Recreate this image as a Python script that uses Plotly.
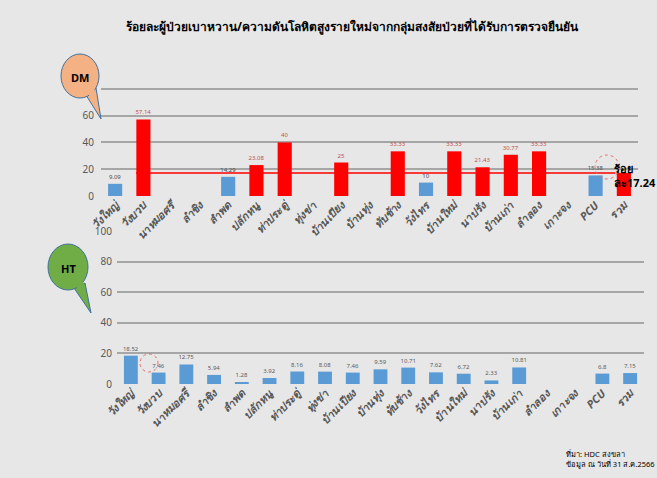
import plotly.graph_objects as go

# Units (sub-district health centres)
categories = ["วังใหญ่", "วังบวบ", "นาหมอศรี", "ลำชิง", "ลำพด", "ปลักหนู", "ท่าประดู่",
              "ทุ่งข่า", "บ้านเปียง", "บ้านทุ่ง", "ทับช้าง", "วังไทร", "บ้านใหม่", "นาปรัง",
              "บ้านเก่า", "ลำลอง", "เกาะจง", "PCU", "รวม"]

# Diabetes (DM) confirmed-new-case rate, %
dm_values = [9.09, 57.14, None, None, 14.29, 23.08, 40, None, 25, None, 33.33, 10,
             33.33, 21.43, 30.77, 33.33, None, 15.38, 17.24]
dm_total = 17.24

# Hypertension (HT) confirmed-new-case rate, %
ht_values = [18.52, 7.46, 12.75, 5.94, 1.28, 3.92, 8.16, 8.08, 7.46, 9.59, 10.71, 7.62,
             6.72, 2.33, 10.81, None, None, 6.8, 7.15]

y_ticks = [0, 20, 40, 60, 80, 100]
# the DM bubble sits over the two upper labels of the top chart
dm_tick_text = ["0", "20", "40", "60", "", ""]
ht_tick_text = ["0", "20", "40", "60", "80", "100"]

W, H = 657, 478
RED, BLUE = "#ff0000", "#5b9bd5"
GRID = "#a6a6a6"
TICK = "#595959"
BG = "#e7e7e7"
FONT = "Tahoma, 'Noto Sans', sans-serif"


def px_x(v):
    return v / W


def px_y(v):
    return 1 - v / H


def fmt(v):
    return "" if v is None else f"{v:g}"


dm_colors = [RED if (v is not None and v >= dm_total) else BLUE for v in dm_values]
dm_text_colors = ["#c0504d" if c == RED else "#505050" for c in dm_colors]

fig = go.Figure()

fig.add_trace(go.Bar(
    x=categories, y=dm_values, xaxis="x", yaxis="y",
    marker=dict(color=dm_colors, line=dict(width=0)), width=0.5,
    text=[fmt(v) if i != len(dm_values) - 1 else "" for i, v in enumerate(dm_values)],
    textposition="outside", cliponaxis=False, constraintext="none",
    textfont=dict(size=6, color=dm_text_colors, family=FONT),
    hoverinfo="x+y", showlegend=False,
))

fig.add_trace(go.Bar(
    x=categories, y=ht_values, xaxis="x2", yaxis="y2",
    marker=dict(color=BLUE, line=dict(width=0)), width=0.5,
    text=[fmt(v) for v in ht_values],
    textposition="outside", cliponaxis=False, constraintext="none",
    textfont=dict(size=6, color="#606060", family=FONT),
    hoverinfo="x+y", showlegend=False,
))

axis_x = dict(type="category", showgrid=False, zeroline=False, showline=False,
              tickangle=-45, tickfont=dict(size=11, color=TICK, family=FONT),
              tickprefix="<b><i>", ticksuffix="</i></b>",
              ticks="", ticklen=0)
axis_y = dict(range=[0, 100], tickvals=y_ticks, showgrid=True, gridcolor=GRID,
              gridwidth=1.5, zeroline=False, showline=False,
              tickfont=dict(size=10, color=TICK, family=FONT), ticks="")

fig.update_layout(
    width=W, height=H,
    margin=dict(l=0, r=0, t=0, b=0, autoexpand=False),
    paper_bgcolor=BG, plot_bgcolor=BG,
    bargap=0.5,
    xaxis=dict(axis_x, domain=[px_x(101), px_x(638)], anchor="y"),
    yaxis=dict(axis_y, ticktext=dm_tick_text, ticklabelstandoff=6,
               domain=[px_y(196), px_y(62)], anchor="x"),
    xaxis2=dict(axis_x, domain=[px_x(117), px_x(644)], anchor="y2"),
    yaxis2=dict(axis_y, ticktext=ht_tick_text, ticklabelstandoff=4,
                domain=[px_y(384), px_y(231)], anchor="x2"),
)

shapes = []

# Overall DM rate reference line
shapes.append(dict(type="line", xref="x", yref="y", x0=0.74, x1=17.7,
                   y0=dm_total, y1=dm_total, line=dict(color=RED, width=1.5),
                   layer="above"))

# Dotted highlight rings
for cx, cy, r in [(607, 167, 12), (149, 363, 9)]:
    shapes.append(dict(type="circle", xref="paper", yref="paper",
                       x0=px_x(cx - r), x1=px_x(cx + r), y0=px_y(cy + r), y1=px_y(cy - r),
                       line=dict(color="#e07070", width=1, dash="dot"), layer="above"))


def callout(cx, cy, rx, ry, base1, base2, tip, fill):
    # tail triangle, then the bubble over it, then a patch hiding the seam
    path = (f"M {px_x(base1[0])} {px_y(base1[1])} L {px_x(tip[0])} {px_y(tip[1])} "
            f"L {px_x(base2[0])} {px_y(base2[1])} Z")
    shapes.append(dict(type="path", xref="paper", yref="paper", path=path,
                       fillcolor=fill, line=dict(color="#41719c", width=1), layer="above"))
    shapes.append(dict(type="circle", xref="paper", yref="paper",
                       x0=px_x(cx - rx), x1=px_x(cx + rx), y0=px_y(cy + ry), y1=px_y(cy - ry),
                       fillcolor=fill, line=dict(color="#41719c", width=1), layer="above"))
    patch = (f"M {px_x(base1[0] + 1)} {px_y(base1[1] - 3)} "
             f"L {px_x(tip[0] - 3)} {px_y(tip[1] - 10)} "
             f"L {px_x(base2[0] - 2)} {px_y(base2[1] - 1)} Z")
    shapes.append(dict(type="path", xref="paper", yref="paper", path=patch,
                       fillcolor=fill, line=dict(width=0), layer="above"))


callout(80, 76, 19, 22, (86, 95), (96, 88), (101, 119), "#f4b183")
callout(68, 267, 20, 23, (74, 288), (85, 283), (91, 313), "#70ad47")

fig.update_layout(shapes=shapes)


def note(text, x, y, size, xanchor="center", align="center"):
    return dict(text=text, x=px_x(x), y=px_y(y), xref="paper", yref="paper",
                showarrow=False, xanchor=xanchor, yanchor="middle", align=align,
                font=dict(size=size, color="#000000", family=FONT))


annotations = [
    note("<b>ร้อยละผู้ป่วยเบาหวาน/ความดันโลหิตสูงรายใหม่จากกลุ่มสงสัยป่วยที่ได้รับการตรวจยืนยัน</b>",
         352, 27, 12),
    note("<b>DM</b>", 80, 77, 11),
    note("<b>HT</b>", 68, 268, 11),
    note(f"<b>ร้อย<br>ละ{dm_total}</b>", 612, 175, 11, xanchor="left", align="left"),
    note("ที่มา: HDC สงขลา<br>ข้อมูล ณ วันที่ 31 ส.ค.2566", 564, 459, 7.5,
         xanchor="left", align="left"),
]
fig.update_layout(annotations=annotations)

fig.write_html("out.html")
